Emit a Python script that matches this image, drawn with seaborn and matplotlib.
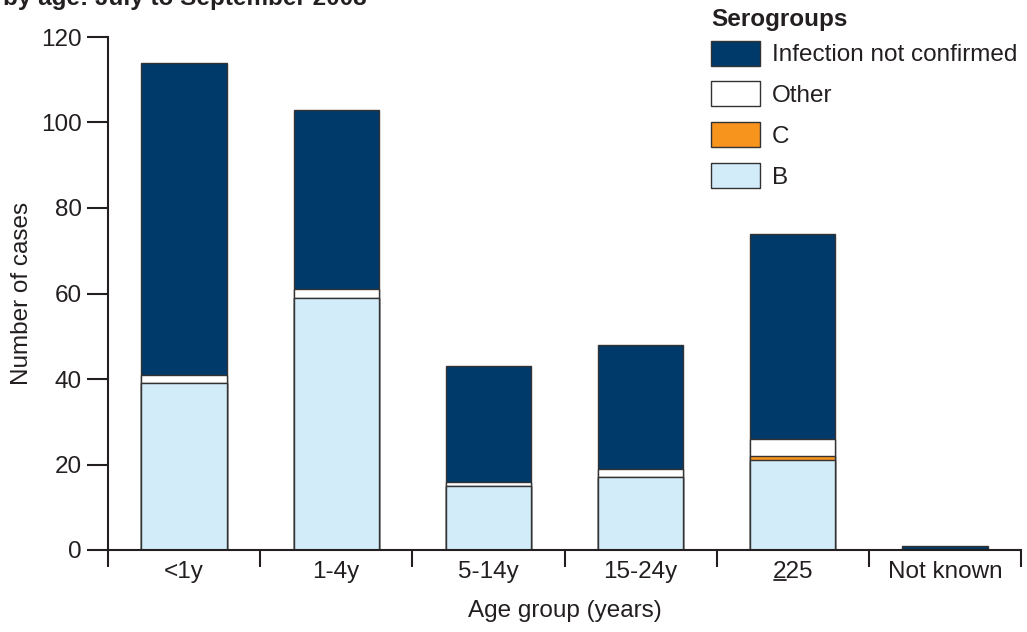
import numpy as np
import pandas as pd
import matplotlib
matplotlib.use("Agg")
import matplotlib.pyplot as plt
import seaborn as sns
from matplotlib.patches import Patch
from matplotlib.lines import Line2D

age_groups = ["<1y", "1-4y", "5-14y", "15-24y", "225", "Not known"]
sero_b = [39, 59, 15, 17, 21, 0]
sero_c = [0, 0, 0, 0, 1, 0]
sero_other = [2, 2, 1, 2, 4, 0]
not_confirmed = [73, 42, 27, 29, 48, 1]

navy = "#003a6a"
light_blue = "#d2ecf9"
orange = "#f7941d"
edge = "#333333"
axis_col = "#231f20"

df = pd.DataFrame({"age": age_groups, "B": sero_b, "C": sero_c,
                   "Other": sero_other, "NC": not_confirmed})
# cumulative heights, drawn from the top layer down
df["lvl_c"] = df["B"] + df["C"]
df["lvl_other"] = df["lvl_c"] + df["Other"]
df["lvl_total"] = df["lvl_other"] + df["NC"]

sns.set_theme(style="white")
plt.rcParams["font.family"] = ["Liberation Sans", "DejaVu Sans"]
plt.rcParams["text.color"] = axis_col

fig = plt.figure(figsize=(10.27, 6.32), dpi=100)
ax = fig.add_axes([108 / 1027, 82 / 632, 913 / 1027, 513 / 632])

layers = [("lvl_total", navy), ("lvl_other", "white"), ("lvl_c", orange), ("B", light_blue)]
for col, colour in layers:
    sns.barplot(data=df, x="age", y=col, color=colour, saturation=1, width=0.56,
                edgecolor=edge, linewidth=1, ax=ax)

fs = 17.5
ax.set_ylim(0, 120)
ax.set_xlim(-0.5, 5.5)
ax.set_yticks(range(0, 121, 20))
ax.tick_params(axis="y", left=True, labelsize=fs, length=15, width=1.5, color=axis_col,
               labelcolor=axis_col, direction="out", pad=4)
ax.set_xticks(np.arange(-0.5, 5.6, 1), minor=True)
ax.tick_params(axis="x", which="major", length=0, labelsize=fs, labelcolor=axis_col, pad=8)
ax.tick_params(axis="x", which="minor", bottom=True, length=12, width=1.5, color=axis_col,
               direction="out")

for s in ["top", "right"]:
    ax.spines[s].set_visible(False)
for s in ["left", "bottom"]:
    ax.spines[s].set_color(axis_col)
    ax.spines[s].set_linewidth(1.5)

ax.set_xlabel("Age group (years)", fontsize=fs, labelpad=12, color=axis_col)
ax.set_ylabel("Number of cases", fontsize=fs, labelpad=6, color=axis_col)

handles = [Patch(facecolor=navy, edgecolor=edge, label="Infection not confirmed"),
           Patch(facecolor="white", edgecolor=edge, label="Other"),
           Patch(facecolor=orange, edgecolor=edge, label="C"),
           Patch(facecolor=light_blue, edgecolor=edge, label="B")]
leg = ax.legend(handles=handles, title="Serogroups", loc="upper left",
                bbox_to_anchor=(711 / 1027, 1 - 8 / 632), bbox_transform=fig.transFigure,
                frameon=False, fontsize=fs, title_fontsize=fs,
                handlelength=2.0, handleheight=1.2, handletextpad=0.5, labelspacing=0.62,
                borderaxespad=0, borderpad=0)
leg.get_title().set_fontweight("bold")
leg._legend_box.align = "left"
leg._legend_box.sep = 7

fig.text(0.003, 1 - 5 / 632, "by age: July to September 2008", fontsize=fs,
         fontweight="bold", ha="left", va="baseline")

# the source shows the ">=" sign as an underlined 2
fig.canvas.draw()
bb = ax.get_xticklabels()[4].get_window_extent()
W, H = fig.bbox.width, fig.bbox.height
uy = (bb.y0 + 3) / H
fig.add_artist(Line2D([(bb.x0 + 1) / W, (bb.x0 + bb.width / 3) / W], [uy, uy],
                      transform=fig.transFigure, color=axis_col, lw=1.3))

fig.savefig("out.png", dpi=100)
